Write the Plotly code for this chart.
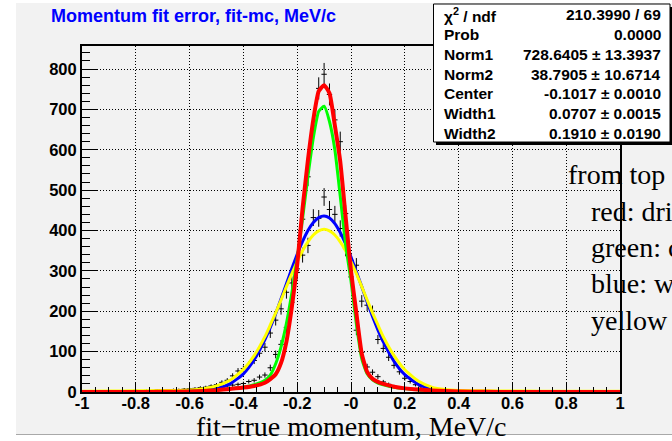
import numpy as np
import plotly.graph_objects as go

# ---------------- data ----------------
# histogram bin centres (bin width 0.02)
hist_x = [round(-0.98 + 0.02 * i, 2) for i in range(75)]   # -0.98 ... 0.50

# narrow histogram (drawn with the red / green fits)
hist_narrow = [1, 0, 1, 2, 1, 2, 1, 3, 2, 2,
               3, 2, 3, 4, 3, 4, 5, 4, 6, 5,
               7, 8, 8, 10, 11, 13, 15, 17, 19, 21,
               26, 29, 37, 42, 60, 93, 118, 160, 222, 296,
               428, 533, 649, 752, 787, 737, 674, 620, 442, 285,
               153, 98, 62, 49, 38, 25, 19, 14, 11, 8,
               6, 5, 3, 3, 2, 1, 2, 1, 0, 1,
               0, 0, 0, 0, 0]

# wide histogram (drawn with the blue / yellow fits)
hist_wide = [2, 1, 2, 1, 3, 2, 2, 3, 2, 4,
             3, 4, 3, 5, 4, 5, 6, 6, 7, 8,
             9, 11, 12, 15, 18, 24, 29, 40, 52, 58,
             68, 78, 96, 111, 146, 178, 206, 247, 270, 305,
             339, 363, 432, 430, 483, 452, 440, 405, 355, 326,
             314, 225, 215, 200, 130, 108, 86, 66, 50, 34,
             26, 18, 13, 9, 6, 5, 3, 2, 2, 1,
             1, 0, 1, 0, 0]

# fitted curves sampled along x
fit_x = [-1.0, -0.9, -0.8, -0.7, -0.6, -0.55, -0.5, -0.45, -0.4, -0.36,
         -0.32, -0.30, -0.28, -0.26, -0.24, -0.22, -0.20, -0.18, -0.16, -0.14,
         -0.12, -0.10, -0.08, -0.06, -0.04, -0.02, 0.00, 0.02, 0.04, 0.06,
         0.08, 0.10, 0.12, 0.16, 0.20, 0.25, 0.30, 0.35, 0.40, 0.50,
         0.60, 0.70, 0.80, 0.90, 1.00]

red_fit = [0, 0, 0.1, 0.4, 1.5, 2.7, 4.6, 7.6, 11, 15,
           23, 32, 44, 72, 125, 210, 315, 455, 575, 675,
           745, 760, 740, 660, 571, 434, 300, 195, 95, 50,
           33, 25, 20, 13, 9, 6, 4, 2.5, 1.5, 0.4,
           0.1, 0, 0, 0, 0]

green_fit = [0.8, 0.8, 0.9, 1.2, 2, 3.2, 5, 8, 12, 18,
             29, 42, 70, 112, 170, 245, 330, 430, 535, 630,
             695, 708, 670, 600, 485, 365, 275, 168, 82, 45,
             30, 22, 18, 12, 8.5, 5.5, 3.5, 2, 1.2, 0.6,
             0.5, 0.5, 0.5, 0.5, 0.5]

blue_fit = [1, 1, 1, 1.2, 2, 3.5, 8, 20, 45, 80,
            130, 160, 194, 231, 268, 306, 341, 373, 400, 420,
            432, 436, 431, 417, 395, 367, 334, 298, 261, 223,
            187, 154, 124, 76, 43, 19, 8, 3, 1.5, 1,
            1, 1, 1, 1, 1]

yellow_fit = [2, 2.5, 3, 3.5, 5, 8, 15, 29, 56, 90,
              137, 166, 196, 228, 261, 293, 323, 350, 372, 389,
              399, 403, 399, 389, 372, 350, 323, 293, 261, 228,
              196, 166, 137, 90, 55, 27, 12, 6, 4, 3,
              2.5, 2, 2, 2, 2]

x_tick_vals = [-1, -0.8, -0.6, -0.4, -0.2, 0, 0.2, 0.4, 0.6, 0.8, 1]
x_tick_text = ["-1", "-0.8", "-0.6", "-0.4", "-0.2", "-0", "0.2", "0.4", "0.6", "0.8", "1"]
y_tick_vals = [0, 100, 200, 300, 400, 500, 600, 700, 800]
y_tick_text = ["0", "100", "200", "300", "400", "500", "600", "700", "800"]

stat_names = ["χ<sup>2</sup> / ndf", "Prob", "Norm1", "Norm2", "Center", "Width1", "Width2"]
stat_values = ["210.3990 / 69", "0.0000", "728.6405 ± 13.3937", "38.7905 ± 10.6714",
               "-0.1017 ± 0.0010", "0.0707 ± 0.0015", "0.1910 ± 0.0190"]

title_text = "Momentum fit error, fit-mc, MeV/c"
x_title = "fit−true momentum, MeV/c"
note_lines = ["from top", "red: dri", "green: c", "blue: w", "yellow"]

# ---------------- layout geometry (pixels) ----------------
W, H = 672, 441
L, R, T, B = 82, 620, 46, 392


def px(x):
    return (x - L) / (R - L)


def py(y):
    return (B - y) / (B - T)


fig = go.Figure()

for vals in (hist_narrow, hist_wide):
    xs = [x for x, v in zip(hist_x, vals) if v > 0]
    vs = [v for v in vals if v > 0]
    fig.add_trace(go.Scatter(
        x=xs, y=vs, mode="markers",
        marker=dict(size=1, color="rgba(0,0,0,0)"),
        error_y=dict(type="data", array=list(np.sqrt(vs)), width=0, thickness=1, color="black"),
        error_x=dict(type="constant", value=0.01, width=0, thickness=1, color="black"),
        showlegend=False, hoverinfo="skip"))

for vals, col, w in ((blue_fit, "#0000ff", 3), (yellow_fit, "#ffff00", 3),
                     (green_fit, "#00ff00", 3), (red_fit, "#ff0000", 4)):
    fig.add_trace(go.Scatter(
        x=fit_x, y=vals, mode="lines",
        line=dict(color=col, width=w, shape="spline", smoothing=0.5),
        showlegend=False, hoverinfo="skip"))

tickfont = dict(family="Liberation Sans", size=16.5, color="black", weight="bold")
axis_common = dict(
    ticks="inside", tickwidth=1, tickcolor="black",
    showline=True, linewidth=2, linecolor="black", mirror=True,
    showgrid=True, gridcolor="black", gridwidth=1, griddash="1px,2px",
    zeroline=False, tickfont=tickfont, fixedrange=True)

fig.update_xaxes(range=[-1, 1], tickmode="array", tickvals=x_tick_vals, ticktext=x_tick_text,
                 ticklen=10, ticklabelstandoff=-5,
                 minor=dict(tickmode="linear", tick0=-1, dtick=0.05, ticks="inside",
                            ticklen=5, tickwidth=1, tickcolor="black", showgrid=False),
                 **axis_common)
fig.update_yaxes(range=[0, 857], tickmode="array", tickvals=y_tick_vals, ticktext=y_tick_text,
                 ticklen=16,
                 minor=dict(tickmode="linear", tick0=0, dtick=20, ticks="inside",
                            ticklen=8, tickwidth=1, tickcolor="black", showgrid=False),
                 **axis_common)

shapes = [
    # canvas pad (grey) with white strips left / top / bottom
    dict(type="rect", xref="paper", yref="paper", x0=px(16), x1=px(690), y0=py(3), y1=py(434),
         fillcolor="#f2f2f2", line=dict(width=0), layer="below"),
    dict(type="line", xref="paper", yref="paper", x0=px(16), x1=px(690), y0=py(434.5), y1=py(434.5),
         line=dict(color="#a8a8a8", width=1), layer="below"),
    # stats box shadow + box
    dict(type="rect", xref="paper", yref="paper", x0=px(436), x1=px(673), y0=py(145), y1=py(7),
         fillcolor="black", line=dict(width=0), layer="above"),
    dict(type="rect", xref="paper", yref="paper", x0=px(433.5), x1=px(670), y0=py(142), y1=py(4),
         fillcolor="white", line=dict(color="black", width=1), layer="above"),
]

ann = []
ann.append(dict(text=title_text, x=px(49), y=py(16), xref="paper", yref="paper",
                xanchor="left", yanchor="middle", showarrow=False,
                font=dict(family="Liberation Sans", size=18, color="#0000ff", weight="bold")))
ann.append(dict(text=x_title, x=0.5, y=py(426.5), xref="paper", yref="paper",
                xanchor="center", yanchor="middle", showarrow=False,
                font=dict(family="Liberation Serif", size=28, color="black")))
statfont = dict(family="Liberation Sans", size=15.5, color="black", weight="bold")
for i, (n, v) in enumerate(zip(stat_names, stat_values)):
    yc = 15 + 19.7 * i
    ann.append(dict(text=n, x=px(442), y=py(yc), xref="paper", yref="paper",
                    xanchor="left", yanchor="middle", showarrow=False, font=statfont))
    ann.append(dict(text=v, x=px(663), y=py(yc), xref="paper", yref="paper",
                    xanchor="right", yanchor="middle", showarrow=False, font=statfont))
for i, t in enumerate(note_lines):
    x0 = 566 if i == 0 else 589
    yc = 175 + 36.3 * i
    ann.append(dict(text=t, x=px(x0), y=py(yc), xref="paper", yref="paper",
                    xanchor="left", yanchor="middle", showarrow=False,
                    font=dict(family="Liberation Serif", size=28, color="black")))

fig.update_layout(
    width=W, height=H, autosize=False,
    margin=dict(l=L, r=W - R, t=T, b=H - B, pad=0),
    paper_bgcolor="white", plot_bgcolor="#f2f2f2",
    shapes=shapes, annotations=ann, showlegend=False)

fig.write_html("out.html", config={"displayModeBar": False})
